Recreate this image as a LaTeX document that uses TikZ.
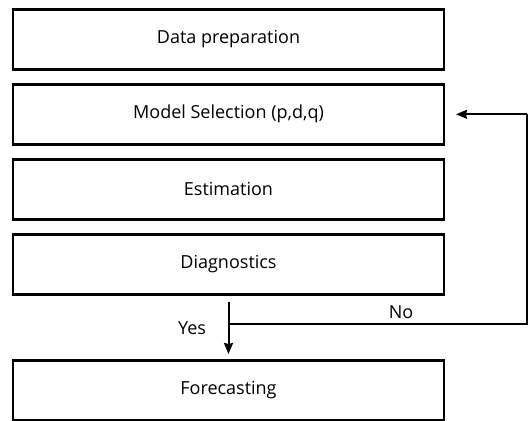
\documentclass[tikz,border=0pt]{standalone}
\usepackage{fontspec}
\setmainfont{Open Sans}
\usetikzlibrary{arrows.meta,calc}
\begin{document}
\begin{tikzpicture}[x=1pt,y=-1pt,
  box/.style={draw=black,line width=2.4pt,minimum width=431pt,minimum height=60pt,inner sep=0pt,font=\fontsize{18}{20}\selectfont,fill=white},
  conn/.style={line width=2pt,draw=black},
  tip/.style={-{Stealth[length=11pt,width=9pt,inset=1pt]}},
  lbl/.style={font=\fontsize{18}{20}\selectfont,inner sep=0pt}]
\useasboundingbox (0,0) rectangle (531,421);
\node[box] (prep) at (228.5,39.3) {Data preparation};
\node[box] (sel) at (228.5,114.3) {Model Selection (p,d,q)};
\node[box] (est) at (228.5,189.3) {Estimation};
\node[box] (diag) at (228.5,264.3) {Diagnostics};
\node[box] (fore) at (228.5,390.3) {Forecasting};
\coordinate (ys) at (228.5,301.5);
\coordinate (ye) at (228.5,354);
\coordinate (j) at (228.5,324.3);
\coordinate (r) at (527,324.3);
\coordinate (rt) at (527,114.3);
\coordinate (ne) at (456,114.3);
\draw[conn,tip] (ys) -- (ye);
\draw[conn] (j) -- (r) -- (rt);
\draw[conn,tip] (rt) -- (ne);
\node[lbl] (yes) at (192,328) {Yes};
\node[lbl] (no) at (401,312.5) {No};
\end{tikzpicture}
\end{document}
